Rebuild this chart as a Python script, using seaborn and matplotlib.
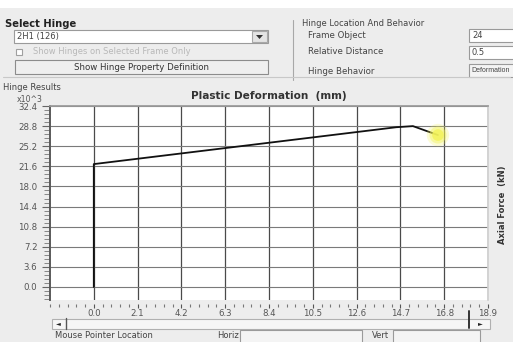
import numpy as np
import pandas as pd
import matplotlib
matplotlib.use("Agg")
import matplotlib.pyplot as plt
from matplotlib.patches import Rectangle, Polygon
from matplotlib.lines import Line2D
from matplotlib.ticker import FixedLocator
import seaborn as sns

# Hinge response curve (plastic deformation in mm, axial force in kN x10^3)
deformation = [0.0, 0.0, 14.5, 15.3, 16.5]
axial_force = [0.0, 22.0, 28.6, 28.8, 27.2]
current_point = (16.5, 27.2)

x_ticks = [0.0, 2.1, 4.2, 6.3, 8.4, 10.5, 12.6, 14.7, 16.8, 18.9]
y_ticks = [0.0, 3.6, 7.2, 10.8, 14.4, 18.0, 21.6, 25.2, 28.8, 32.4]

hinge_name = "2H1 (126)"
frame_object = "24"
relative_distance = "0.5"
hinge_behavior = "Deformation"

sns.set_theme(style="white")
plt.rcParams["font.family"] = ["DejaVu Sans"]

W, H = 513, 342
BG = "#EDEDED"
fig = plt.figure(figsize=(W / 100, H / 100), dpi=100, facecolor=BG)


def fx(x):
    return x / W


def fy(y):
    return 1 - y / H


def box(x0, y0, x1, y1, fc="white", ec="#9A9A9A", lw=0.8, z=1):
    fig.patches.append(Rectangle((fx(x0), fy(y1)), fx(x1) - fx(x0), fy(y0) - fy(y1),
                                 transform=fig.transFigure, facecolor=fc,
                                 edgecolor=ec, linewidth=lw, zorder=z))


def hline(x0, x1, y, color="#B0B0B0", lw=0.8):
    fig.lines.append(Line2D([fx(x0), fx(x1)], [fy(y), fy(y)], transform=fig.transFigure,
                            color=color, linewidth=lw))


def vline(x, y0, y1, color="#B0B0B0", lw=0.8):
    fig.lines.append(Line2D([fx(x), fx(x)], [fy(y0), fy(y1)], transform=fig.transFigure,
                            color=color, linewidth=lw))


def label(x, y, s, size=6.2, color="#333333", weight="normal", ha="left", **kw):
    fig.text(fx(x), fy(y), s, fontsize=size, color=color, weight=weight,
             ha=ha, va="center", **kw)


# ---- top panel -------------------------------------------------------------
box(0, 0, W, 8, fc="white", ec="none", lw=0)
label(5, 24, "Select Hinge", size=7.2, weight="bold", color="#222222")
box(14, 30, 268, 43)
label(17, 36.5, hinge_name, size=6.0, color="#444444")
box(252, 31, 267, 42, fc="#E4E4E4", ec="#A8A8A8")
fig.patches.append(Polygon([[fx(256), fy(35)], [fx(263), fy(35)], [fx(259.5), fy(39)]],
                           closed=True, transform=fig.transFigure,
                           facecolor="#333333", edgecolor="none"))
box(16, 49, 22, 55, fc="white", ec="#A0A0A0")
label(33, 52, "Show Hinges on Selected Frame Only", size=6.0, color="#B8B8B8")
box(15, 60, 268, 74, fc="#EFEFEF", ec="#8C8C8C")
label(141, 67, "Show Hinge Property Definition", size=6.2, color="#333333", ha="center")
vline(293, 20, 80, color="#A8A8A8")
label(302, 24, "Hinge Location And Behavior", size=6.0, color="#444444")
label(308, 36, "Frame Object", size=6.2, color="#444444")
label(308, 52, "Relative Distance", size=6.2, color="#444444")
label(308, 71, "Hinge Behavior", size=6.2, color="#444444")
box(469, 29, 515, 42)
label(472, 35.5, frame_object, size=6.0, color="#444444")
box(469, 46, 515, 59)
label(472, 52.5, relative_distance, size=6.0, color="#444444")
box(469, 64, 515, 77, fc="#F4F4F4")
label(471, 70.5, hinge_behavior, size=5.0, color="#444444",
      family=["Liberation Sans", "DejaVu Sans"])
hline(3, 510, 77, color="#C8C8C8")
label(3, 87, "Hinge Results", size=6.0, color="#444444")

# ---- chart -----------------------------------------------------------------
ax = fig.add_axes([fx(50), fy(300), fx(488) - fx(50), fy(106) - fy(300)])
ax.set_facecolor("white")
df = pd.DataFrame({"Deformation": deformation, "Force": axial_force})
sns.lineplot(data=df, x="Deformation", y="Force", sort=False, estimator=None,
             color="#111111", linewidth=1.3, ax=ax, zorder=4)
for s, a in [(260, 0.25), (150, 0.45), (70, 0.85)]:
    ax.scatter([current_point[0]], [current_point[1]], s=s, color="#F3F35A",
               alpha=a, edgecolors="none", zorder=5)

ax.set_xlim(-2.1, 18.9)
ax.set_ylim(-2.33, 32.4)
for v in x_ticks:
    ax.axvline(v, color="#4A4A4A", linewidth=0.9, zorder=1)
for v in y_ticks:
    ax.axhline(v, color="#7A7A7A", linewidth=0.8, zorder=1)

ax.xaxis.set_major_locator(FixedLocator(x_ticks))
ax.set_xticklabels([f"{v:.1f}" for v in x_ticks])
ax.xaxis.set_minor_locator(FixedLocator(list(np.arange(-2.1, 18.95, 0.42))))
ax.yaxis.set_major_locator(FixedLocator(y_ticks))
ax.set_yticklabels([f"{v:.1f}" for v in y_ticks])
ax.yaxis.set_minor_locator(FixedLocator(list(np.arange(-2.16, 32.45, 0.72))))
ax.tick_params(axis="x", which="major", direction="out", length=3, width=0.8,
               color="#555555", labelsize=6.2, labelcolor="#555555", pad=0.5, bottom=True)
ax.tick_params(axis="x", which="minor", direction="out", length=2, width=0.8,
               color="#777777", bottom=True)
ax.tick_params(axis="y", which="major", direction="out", length=6, width=0.8,
               color="#666666", labelsize=6.2, labelcolor="#555555", pad=3, left=True)
ax.tick_params(axis="y", which="minor", direction="out", length=4, width=0.6,
               color="#777777", left=True)
ax.spines["bottom"].set_position(("outward", 3))
ax.spines["bottom"].set_visible(False)
ax.spines["left"].set_color("#5A5A5A")
ax.spines["left"].set_linewidth(1.4)
ax.spines["top"].set_color("#9A9A9A")
ax.spines["right"].set_color("#D0D0D0")
ax.set_xlabel("")
ax.set_ylabel("")

fig.text(fx(269), fy(96), "Plastic Deformation  (mm)", fontsize=7.6, weight="bold",
         color="#333333", ha="center", va="center")
label(17, 99, "x10^3", size=5.6, color="#555555")
fig.text(fx(503), fy(205), "Axial Force  (kN)", fontsize=6.0, weight="bold",
         color="#333333", rotation=90, ha="center", va="center")

# ---- bottom scroll bar and pointer readout ---------------------------------
box(52, 319, 490, 329, fc="#F6F6F6", ec="#B0B0B0")
vline(66, 318, 329, color="#555555", lw=1.0)
vline(469, 311, 328, color="#333333", lw=1.4)
label(58, 324, "◄", size=4.5, color="#222222", ha="center")
label(480, 324, "►", size=4.5, color="#222222", ha="center")
label(55, 335, "Mouse Pointer Location", size=6.0, color="#444444")
label(217, 335, "Horiz", size=6.0, color="#444444")
box(240, 330, 362, 345, fc="#F4F4F4", ec="#9A9A9A")
label(372, 335, "Vert", size=6.0, color="#444444")
box(393, 330, 480, 345, fc="#F4F4F4", ec="#9A9A9A")

fig.savefig("out.png", dpi=100, facecolor=BG)
